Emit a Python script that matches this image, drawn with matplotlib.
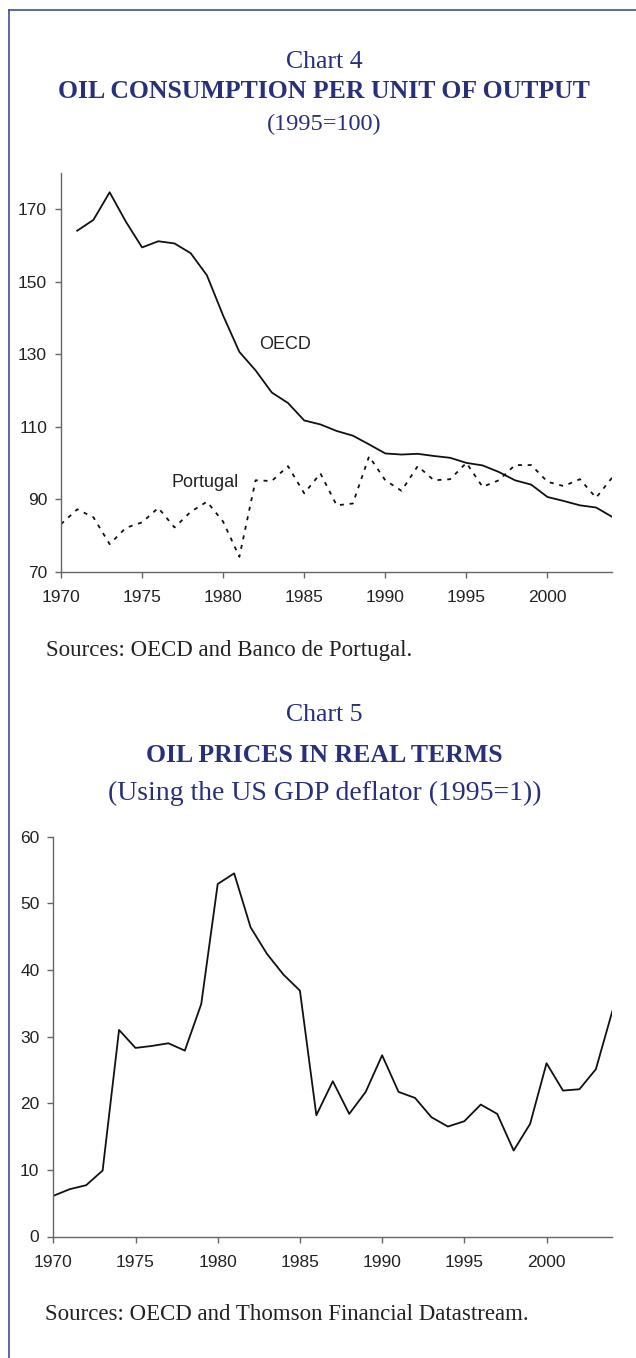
import matplotlib.pyplot as plt
import numpy as np

# Chart 4 data (1995=100)
years_c4 = np.arange(1970, 2005)
oecd_years = np.arange(1971, 2005)
oecd = [164.0, 167.0, 174.6, 166.5, 159.4, 161.1, 160.5, 157.8, 151.7, 140.6,
        130.6, 125.5, 119.4, 116.5, 111.7, 110.6, 108.8, 107.5, 105.1, 102.6,
        102.3, 102.5, 101.9, 101.4, 100.0, 99.3, 97.5, 95.2, 94.0, 90.6,
        89.5, 88.3, 87.7, 85.1]
portugal = [83.1, 87.2, 85.0, 77.6, 82.1, 83.6, 87.6, 82.2, 86.5, 89.3,
            83.8, 74.1, 95.2, 95.0, 99.1, 91.6, 97.1, 88.3, 88.8, 101.8,
            95.2, 92.3, 99.1, 95.2, 95.5, 100.0, 93.4, 95.2, 99.4, 99.4,
            94.8, 93.6, 95.5, 90.4, 96.0]

# Chart 5 data (real oil price, US GDP deflator 1995=1)
years_c5 = np.arange(1970, 2005)
oil_price = [6.1, 7.1, 7.7, 9.9, 31.0, 28.3, 28.6, 29.0, 27.9, 34.9,
             52.9, 54.5, 46.4, 42.4, 39.3, 36.9, 18.2, 23.3, 18.4, 21.7,
             27.2, 21.7, 20.8, 17.9, 16.5, 17.3, 19.8, 18.4, 12.9, 16.9,
             26.0, 21.9, 22.1, 25.1, 33.8]

xticks = [1970, 1975, 1980, 1985, 1990, 1995, 2000]

W, H = 636, 1358
navy = '#28307a'
frame = '#3d4ca3'
axis_col = '#666666'
tick_font = 'Liberation Sans'
serif = 'Liberation Serif'

fig = plt.figure(figsize=(W / 100, H / 100), dpi=100)


def fx(px):
    return px / W


def fy(py):
    return 1 - py / H


def style_axes(ax):
    for s in ['top', 'right']:
        ax.spines[s].set_visible(False)
    for s in ['left', 'bottom']:
        ax.spines[s].set_color(axis_col)
        ax.spines[s].set_linewidth(1.0)
    ax.tick_params(axis='both', direction='out', length=4, width=1.0,
                   color=axis_col, labelsize=12.5, labelcolor='#222222')
    ax.tick_params(axis='x', pad=9)
    ax.tick_params(axis='y', pad=6)
    for lab in ax.get_xticklabels() + ax.get_yticklabels():
        lab.set_fontfamily(tick_font)


# page frame (left and top rules)
fig.add_artist(plt.Line2D([fx(9), fx(9)], [fy(10), 0], color=frame, lw=1.2))
fig.add_artist(plt.Line2D([fx(9), 1], [fy(10), fy(10)], color=frame, lw=1.2))

# ---- Chart 4 ----
fig.text(0.51, fy(62), 'Chart 4', ha='center', va='center', fontsize=18.5,
         family=serif, color=navy)
fig.text(0.51, fy(91), 'OIL CONSUMPTION PER UNIT OF OUTPUT', ha='center',
         va='center', fontsize=18.5, family=serif, weight='bold', color=navy)
fig.text(0.51, fy(124), '(1995=100)', ha='center', va='center', fontsize=17.5,
         family=serif, color=navy)

ax1 = fig.add_axes([fx(61), fy(571.7), fx(612.3) - fx(61), fy(172.7) - fy(571.7)])
ax1.plot(oecd_years, oecd, color='#111111', lw=1.3)
ax1.plot(years_c4, portugal, color='#111111', lw=1.3, linestyle=(0, (2.2, 3.2)))
ax1.set_xlim(1970, 2004)
ax1.set_ylim(70, 180)
ax1.set_xticks(xticks)
ax1.set_yticks([70, 90, 110, 130, 150, 170])
style_axes(ax1)
ax1.text(1983.8, 132.7, 'OECD', ha='center', va='center', fontsize=13,
         family=tick_font, color='#222222')
ax1.text(1980.95, 94.7, 'Portugal', ha='right', va='center', fontsize=13,
         family=tick_font, color='#222222')

fig.text(fx(46), fy(650), 'Sources: OECD and Banco de Portugal.', ha='left',
         va='center', fontsize=16.5, family=serif, color='#222222')

# ---- Chart 5 ----
fig.text(0.51, fy(715), 'Chart 5', ha='center', va='center', fontsize=18.5,
         family=serif, color=navy)
fig.text(0.51, fy(755), 'OIL PRICES IN REAL TERMS', ha='center',
         va='center', fontsize=18.5, family=serif, weight='bold', color=navy)
fig.text(0.51, fy(793), '(Using the US GDP deflator (1995=1))', ha='center',
         va='center', fontsize=20, family=serif, color=navy)

ax2 = fig.add_axes([fx(53.3), fy(1236.5), fx(612.3) - fx(53.3), fy(836.7) - fy(1236.5)])
ax2.plot(years_c5, oil_price, color='#111111', lw=1.3)
ax2.set_xlim(1970, 2004)
ax2.set_ylim(0, 60)
ax2.set_xticks(xticks)
ax2.set_yticks([0, 10, 20, 30, 40, 50, 60])
style_axes(ax2)

fig.text(fx(45), fy(1315), 'Sources: OECD and Thomson Financial Datastream.',
         ha='left', va='center', fontsize=16.5, family=serif, color='#222222')

plt.savefig('out.png', dpi=100)
